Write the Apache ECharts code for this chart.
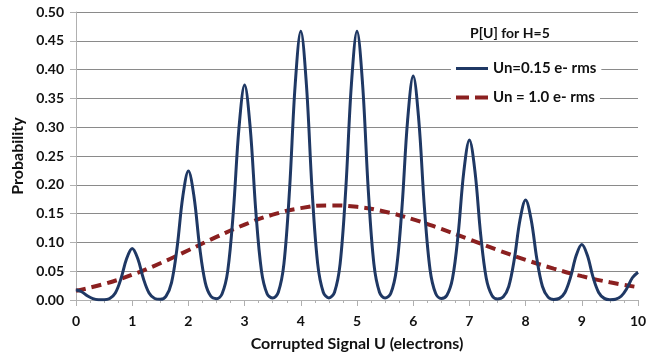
<!DOCTYPE html>
<html><head><meta charset="utf-8">
<script src="https://cdn.jsdelivr.net/npm/echarts@6/dist/echarts.min.js"></script>
<style>html,body{margin:0;padding:0;background:#fff}#c{width:655px;height:360px}</style>
</head><body><div id="c"></div>
<script>
// Data
const uBlue = [0,0.1,0.2,0.3,0.4,0.5,0.6,0.7,0.8,0.9,
  1,1.1,1.2,1.3,1.4,1.5,1.6,1.7,1.8,1.9,
  2,2.1,2.2,2.3,2.4,2.5,2.6,2.7,2.8,2.9,
  3,3.1,3.2,3.3,3.4,3.5,3.6,3.7,3.8,3.9,
  4,4.1,4.2,4.3,4.4,4.5,4.6,4.7,4.8,4.9,
  5,5.1,5.2,5.3,5.4,5.5,5.6,5.7,5.8,5.9,
  6,6.1,6.2,6.3,6.4,6.5,6.6,6.7,6.8,6.9,
  7,7.1,7.2,7.3,7.4,7.5,7.6,7.7,7.8,7.9,
  8,8.1,8.2,8.3,8.4,8.5,8.6,8.7,8.8,8.9,
  9,9.1,9.2,9.3,9.4,9.5,9.6,9.7,9.8,9.9,10];
const pBlue = [0.0179,0.0143,0.0074,0.0024,0.0005,0.0004,0.0026,0.0121,0.0368,0.0717,
  0.0896,0.0717,0.0368,0.0121,0.0026,0.0012,0.0064,0.0303,0.0921,0.1794,
  0.2240,0.1794,0.0921,0.0303,0.0065,0.0023,0.0108,0.0505,0.1535,0.2989,
  0.3733,0.2989,0.1535,0.0505,0.0108,0.0033,0.0135,0.0631,0.1919,0.3737,
  0.4667,0.3737,0.1919,0.0631,0.0135,0.0036,0.0135,0.0631,0.1919,0.3737,
  0.4667,0.3737,0.1919,0.0631,0.0135,0.0033,0.0113,0.0526,0.1599,0.3114,
  0.3889,0.3114,0.1599,0.0526,0.0112,0.0026,0.0081,0.0376,0.1142,0.2224,
  0.2778,0.2224,0.1142,0.0376,0.0080,0.0017,0.0051,0.0235,0.0714,0.1390,
  0.1736,0.1390,0.0714,0.0235,0.0050,0.0010,0.0028,0.0131,0.0397,0.0773,
  0.0965,0.0773,0.0397,0.0131,0.0028,0.0006,0.0014,0.0065,0.0198,0.0386,0.0482];
const uRed = [0,0.5,1,1.5,2,2.5,3,3.5,4,4.5,5,5.5,6,6.5,7,7.5,8,8.5,9,9.5,10];
const pRed = [0.0160,0.0278,0.0438,0.0638,0.0864,0.1095,0.1308,0.1481,0.1595,0.1641,0.1617,
  0.1532,0.1399,0.1233,0.1052,0.0869,0.0698,0.0545,0.0414,0.0307,0.0222];
const seriesNames = ['Un=0.15 e- rms', 'Un = 1.0 e- rms'];
const legendTitle = 'P[U] for H=5';
const xTitle = 'Corrupted Signal U (electrons)';
const yTitle = 'Probability';

const FONT = 'Lato';
const BLUE = '#1f3864', RED = '#8b2020';
const legText = {fontFamily: FONT, fontWeight: 'bold', fontSize: 15, color: '#111'};
const chart = echarts.init(document.getElementById('c'));
chart.setOption({
  animation: false,
  backgroundColor: '#fff',
  textStyle: {fontFamily: FONT},
  title: {
    text: legendTitle, left: 465, top: 21,
    textStyle: {fontFamily: FONT, fontWeight: 'bold', fontSize: 14, color: '#111'}
  },
  grid: {left: 76, right: 17, top: 12, bottom: 60},
  legend: [
    {data: [{name: seriesNames[0], icon: 'path://M0,0H32V3H0Z', itemStyle: {color: BLUE}}],
     left: 451, top: 60, padding: [1, 5, 1, 5],
     backgroundColor: '#fff', itemWidth: 32, itemHeight: 3, itemGap: 4, textStyle: legText},
    {data: [{name: seriesNames[1], icon: 'path://M0,0H13V4H0Z M19,0H32V4H19Z', itemStyle: {color: RED}}],
     left: 451, top: 89, padding: [1, 5, 1, 5],
     backgroundColor: '#fff', itemWidth: 32, itemHeight: 4, itemGap: 4, textStyle: legText}
  ],
  xAxis: {
    type: 'value', min: 0, max: 10, interval: 1,
    name: xTitle, nameLocation: 'middle', nameGap: 36,
    nameTextStyle: {fontFamily: FONT, fontWeight: 'bold', fontSize: 16, color: '#111'},
    axisLine: {show: true, lineStyle: {color: '#b0b0b0', width: 1}},
    axisTick: {show: true, length: 6, lineStyle: {color: '#b0b0b0'}},
    minorTick: {show: true, splitNumber: 4, length: 3, lineStyle: {color: '#b0b0b0'}},
    splitLine: {show: false},
    axisLabel: {margin: 14, fontFamily: FONT, fontWeight: 'bold', fontSize: 14, color: '#111'}
  },
  yAxis: {
    type: 'value', min: 0, max: 0.5, interval: 0.05,
    name: yTitle, nameLocation: 'middle', nameGap: 50, nameRotate: 90,
    nameTextStyle: {fontFamily: FONT, fontWeight: 'bold', fontSize: 16, color: '#111'},
    axisLine: {show: true, lineStyle: {color: '#b0b0b0', width: 1}},
    axisTick: {show: true, length: 6, lineStyle: {color: '#b0b0b0'}},
    splitLine: {show: true, lineStyle: {color: '#8a8a8a', width: 1}},
    axisLabel: {margin: 12, fontFamily: FONT, fontWeight: 'bold', fontSize: 14, color: '#111',
      formatter: v => v.toFixed(2)}
  },
  series: [
    {name: seriesNames[0], type: 'line', symbol: 'none', smooth: 0.35,
     data: uBlue.map((u, i) => [u, pBlue[i]]),
     lineStyle: {color: BLUE, width: 3}, itemStyle: {color: BLUE}, z: 3},
    {name: seriesNames[1], type: 'line', symbol: 'none', smooth: 0.5,
     data: uRed.map((u, i) => [u, pRed[i]]),
     lineStyle: {color: RED, width: 4, type: [10, 6]}, itemStyle: {color: RED}, z: 2}
  ]
});
</script></body></html>
